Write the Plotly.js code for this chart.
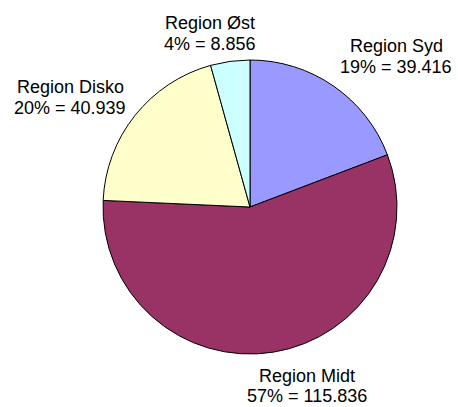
<!DOCTYPE html>
<html>
<head>
<meta charset="utf-8">
<script src="https://cdn.plot.ly/plotly-3.0.1.min.js"></script>
<style>html,body{margin:0;padding:0;background:#fff;}#chart{width:458px;height:407px;}</style>
</head>
<body>
<div id="chart"></div>
<script>
const regions = ["Region Syd", "Region Midt", "Region Disko", "Region Øst"];
const values = [39416, 115836, 40939, 8856];
const percentLabels = [19, 57, 20, 4];
const colors = ["#9999FF", "#993366", "#FFFFCC", "#CCFFFF"];

// label placement (pixel centers of each two-line label)
const labelPos = [
  {x: 396, y1: 46, y2: 67},
  {x: 307, y1: 376, y2: 396},
  {x: 70, y1: 87, y2: 108},
  {x: 210, y1: 23, y2: 44}
];

function fmt(v) {
  return String(v).replace(/\B(?=(\d{3})+(?!\d))/g, ".");
}

const W = 458, H = 407;
const annotations = [];
regions.forEach((r, i) => {
  const p = labelPos[i];
  annotations.push({
    text: r, x: p.x / W, y: 1 - p.y1 / H, xref: "paper", yref: "paper",
    xanchor: "center", yanchor: "middle", showarrow: false,
    font: {family: "Liberation Sans, Arial, sans-serif", size: 18, color: "#000"}
  });
  annotations.push({
    text: percentLabels[i] + "% = " + fmt(values[i]), x: p.x / W, y: 1 - p.y2 / H,
    xref: "paper", yref: "paper",
    xanchor: "center", yanchor: "middle", showarrow: false,
    font: {family: "Liberation Sans, Arial, sans-serif", size: 18, color: "#000"}
  });
});

const cx = 250, cy = 207, R = 147;
const trace = {
  type: "pie",
  labels: regions,
  values: values,
  sort: false,
  direction: "clockwise",
  rotation: 0,
  textinfo: "none",
  hoverinfo: "none",
  marker: {colors: colors, line: {color: "#000", width: 1}},
  domain: {x: [(cx - R) / W, (cx + R) / W], y: [1 - (cy + R) / H, 1 - (cy - R) / H]},
  showlegend: false
};

Plotly.newPlot("chart", [trace], {
  width: W, height: H,
  margin: {l: 0, r: 0, t: 0, b: 0},
  paper_bgcolor: "#fff",
  showlegend: false,
  annotations: annotations
}, {displayModeBar: false, staticPlot: true});
</script>
</body>
</html>
